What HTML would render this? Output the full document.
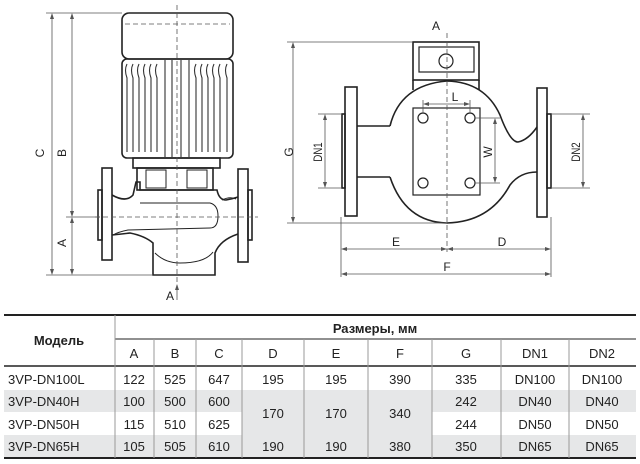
<!DOCTYPE html>
<html><head><meta charset="utf-8"><style>
html,body{margin:0;padding:0;background:#fff;width:640px;height:464px;overflow:hidden}
svg{display:block}
.c{font-family:"Liberation Sans","DejaVu Sans",sans-serif}
</style></head><body>
<svg width="640" height="464" viewBox="0 0 640 464" xmlns="http://www.w3.org/2000/svg">
<!-- LEFT VIEW -->
<g fill="none" stroke="#222" stroke-width="1.6">
  <rect x="122" y="13" width="111" height="46" rx="7"/>
  <rect x="122" y="59" width="111" height="99" rx="5"/>
  <rect x="133" y="158" width="87" height="10"/>
  <rect x="137" y="168" width="76" height="22"/>
  <rect x="146" y="170" width="20" height="18" stroke-width="1"/>
  <rect x="187" y="170" width="20" height="18" stroke-width="1"/>
  <rect x="102" y="168" width="10" height="92"/>
  <rect x="98" y="190" width="4" height="50"/>
  <rect x="238" y="169" width="10" height="93"/>
  <rect x="248" y="190" width="4" height="50"/>
  <path d="M112 195 Q126 203 133 195 L136 182 L140 182 L140 190 L217 190 Q219 200 226 200 Q232 199 238 197"/>
  <path d="M112 235 Q122 234 130 233 Q145 236 153 243 L153 275 L215 275 L215 253 Q220 240 238 234"/>
</g>
<g fill="none" stroke="#222" stroke-width="1">
  <path d="M140 203 L210 203 Q218 205 218 216 Q218 228 210 228 L128 230 Q118 232 113 235"/>
  <path d="M155 253 Q165 263 180 263 Q205 263 213 252"/>
  <path d="M222 200 Q230 196 236 199"/>
</g>
<g stroke="#333" stroke-width="1.1" fill="none">
  <path d="M127 64 Q124 70 127 78 V152 M133 64 Q130 70 133 78 V152 M139 64 Q136 70 139 78 V152 M145 64 Q142 70 145 78 V152 M151 64 Q148 70 151 78 V152 M157 64 Q154 70 157 78 V152"/>
  <path d="M165 60 V157 M172 60 V157 M181 60 V157 M189 60 V157"/>
  <path d="M196 64 Q193 70 196 78 V152 M202 64 Q199 70 202 78 V152 M208 64 Q205 70 208 78 V152 M214 64 Q211 70 214 78 V152 M220 64 Q217 70 220 78 V152 M227 64 Q224 70 227 78 V152"/>
</g>
<g stroke="#555" stroke-width="0.8" fill="none" stroke-dasharray="5,3">
  <path d="M177 5 V292"/><path d="M95 217 H258"/><path d="M125 24 H230"/>
</g>
<g stroke="#555" stroke-width="0.8" fill="none">
  <path d="M46 13 H122 M46 275 H153 M66 217 H100"/>
  <path d="M52 15 V273 M72 15 V215 M72 219 V273"/>
  <path d="M177 285 V300"/>
</g>
<g fill="#555">
  <path d="M52 13 l-2 6 h4z M52 275 l-2 -6 h4z M72 13 l-2 6 h4z M72 217 l-2 -6 h4z M72 217 l-2 6 h4z M72 275 l-2 -6 h4z M177 284 l-2 6 h4z"/>
</g>
<g class="c" font-size="12" fill="#222">
  <text transform="translate(44,153) rotate(-90)" text-anchor="middle">C</text>
  <text transform="translate(66,153) rotate(-90)" text-anchor="middle">B</text>
  <text transform="translate(66,243) rotate(-90)" text-anchor="middle">A</text>
  <text x="170" y="300" text-anchor="middle">A</text>
</g>
<!-- RIGHT VIEW -->
<g fill="none" stroke="#222" stroke-width="1.6">
  <rect x="413" y="42" width="66" height="38"/>
  <rect x="419" y="47" width="55" height="25" stroke-width="1.2"/>
  <circle cx="446" cy="61" r="7" stroke-width="1.2"/>
  <path d="M413 80 V90 M479 80 V90" />
  <path d="M390 126 Q400 85 447 81 Q485 82 500 115 Q510 142 518 142 Q528 140 537 127"/>
  <path d="M390 177 Q405 222 447 223 Q490 222 510 185 Q520 172 537 172"/>
  <path d="M357 126 H390 M357 177 H390"/>
  <rect x="345" y="87" width="12" height="129"/>
  <rect x="342" y="114" width="3" height="74"/>
  <rect x="537" y="88" width="10" height="129"/>
  <rect x="547" y="114" width="4" height="74"/>
  <rect x="413" y="108" width="67" height="87" stroke-width="1.2"/>
  <circle cx="423" cy="118" r="5" stroke-width="1.2"/>
  <circle cx="470" cy="118" r="5" stroke-width="1.2"/>
  <circle cx="423" cy="183" r="5" stroke-width="1.2"/>
  <circle cx="470" cy="183" r="5" stroke-width="1.2"/>
</g>
<path d="M447 33 V252" stroke="#555" stroke-width="0.8" stroke-dasharray="5,3" fill="none"/>
<g stroke="#555" stroke-width="0.8" fill="none">
  <path d="M287 42 H413 M287 223 H447 M293 44 V221"/>
  <path d="M318 114 H342 M318 188 H342 M325 116 V186"/>
  <path d="M551 114 H590 M551 188 H590 M583 116 V186"/>
  <path d="M475 118 H500 M475 183 H500 M495 120 V181"/>
  <path d="M423 100 V113 M470 100 V113 M425 104 H468"/>
  <path d="M341 217 V277 M551 217 V277 M343 249 H549 M343 274 H549"/>
</g>
<g fill="#555">
  <path d="M293 42 l-2 6 h4z M293 223 l-2 -6 h4z M325 114 l-2 6 h4z M325 188 l-2 -6 h4z M583 114 l-2 6 h4z M583 188 l-2 -6 h4z M495 118 l-2 6 h4z M495 183 l-2 -6 h4z M423 104 l6 -2 v4z M470 104 l-6 -2 v4z M341 249 l6 -2 v4z M447 249 l-6 -2 v4z M447 249 l6 -2 v4z M551 249 l-6 -2 v4z M341 274 l6 -2 v4z M551 274 l-6 -2 v4z"/>
</g>
<g class="c" font-size="12" fill="#222">
  <text x="436" y="30" text-anchor="middle">A</text>
  <text transform="translate(293,152) rotate(-90)" text-anchor="middle">G</text>
  <text transform="translate(322,152) rotate(-90) scale(0.8,1)" text-anchor="middle">DN1</text>
  <text transform="translate(580,152) rotate(-90) scale(0.8,1)" text-anchor="middle">DN2</text>
  <text transform="translate(492,152) rotate(-90)" text-anchor="middle">W</text>
  <text x="455" y="101" text-anchor="middle">L</text>
  <text x="396" y="246" text-anchor="middle">E</text>
  <text x="502" y="246" text-anchor="middle">D</text>
  <text x="447" y="271" text-anchor="middle">F</text>
</g>
<!-- TABLE -->
<g fill="#e6e7e8">
  <rect x="4" y="390" width="238" height="22"/>
  <rect x="242" y="390" width="190" height="45"/>
  <rect x="432" y="390" width="204" height="22"/>
  <rect x="4" y="435" width="632" height="23"/>
</g>
<g stroke="#222" fill="none">
  <path d="M4 315 H636" stroke-width="2"/>
  <path d="M115 339 H636" stroke-width="1"/>
  <path d="M4 366 H636" stroke-width="1.6"/>
  <path d="M4 458 H636" stroke-width="2"/>
</g>
<g stroke="#999" stroke-width="1">
  <path d="M115 315 V458"/>
  <path d="M154 339 V458 M196 339 V458 M242 339 V458 M304 339 V458 M368 339 V458 M432 339 V458 M501 339 V458 M569 339 V458"/>
</g>
<g class="c" font-size="13" fill="#222" text-anchor="middle">
  <text x="59" y="345" font-weight="bold">Модель</text>
  <text x="375" y="333" font-weight="bold">Размеры, мм</text>
  <text x="134" y="358">A</text><text x="175" y="358">B</text><text x="219" y="358">C</text>
  <text x="273" y="358">D</text><text x="336" y="358">E</text><text x="400" y="358">F</text>
  <text x="466" y="358">G</text><text x="535" y="358">DN1</text><text x="602" y="358">DN2</text>
</g>
<g class="c" font-size="13" fill="#222" text-anchor="middle">
  <text x="8" y="384" text-anchor="start">3VP-DN100L</text>
  <text x="8" y="406" text-anchor="start">3VP-DN40H</text>
  <text x="8" y="429" text-anchor="start">3VP-DN50H</text>
  <text x="8" y="451" text-anchor="start">3VP-DN65H</text>
  <text x="134" y="384">122</text><text x="175" y="384">525</text><text x="219" y="384">647</text>
  <text x="273" y="384">195</text><text x="336" y="384">195</text><text x="400" y="384">390</text>
  <text x="466" y="384">335</text><text x="535" y="384">DN100</text><text x="602" y="384">DN100</text>
  <text x="134" y="406">100</text><text x="175" y="406">500</text><text x="219" y="406">600</text>
  <text x="273" y="418">170</text><text x="336" y="418">170</text><text x="400" y="418">340</text>
  <text x="466" y="406">242</text><text x="535" y="406">DN40</text><text x="602" y="406">DN40</text>
  <text x="134" y="429">115</text><text x="175" y="429">510</text><text x="219" y="429">625</text>
  <text x="466" y="429">244</text><text x="535" y="429">DN50</text><text x="602" y="429">DN50</text>
  <text x="134" y="451">105</text><text x="175" y="451">505</text><text x="219" y="451">610</text>
  <text x="273" y="451">190</text><text x="336" y="451">190</text><text x="400" y="451">380</text>
  <text x="466" y="451">350</text><text x="535" y="451">DN65</text><text x="602" y="451">DN65</text>
</g>
</svg>
</body></html>
